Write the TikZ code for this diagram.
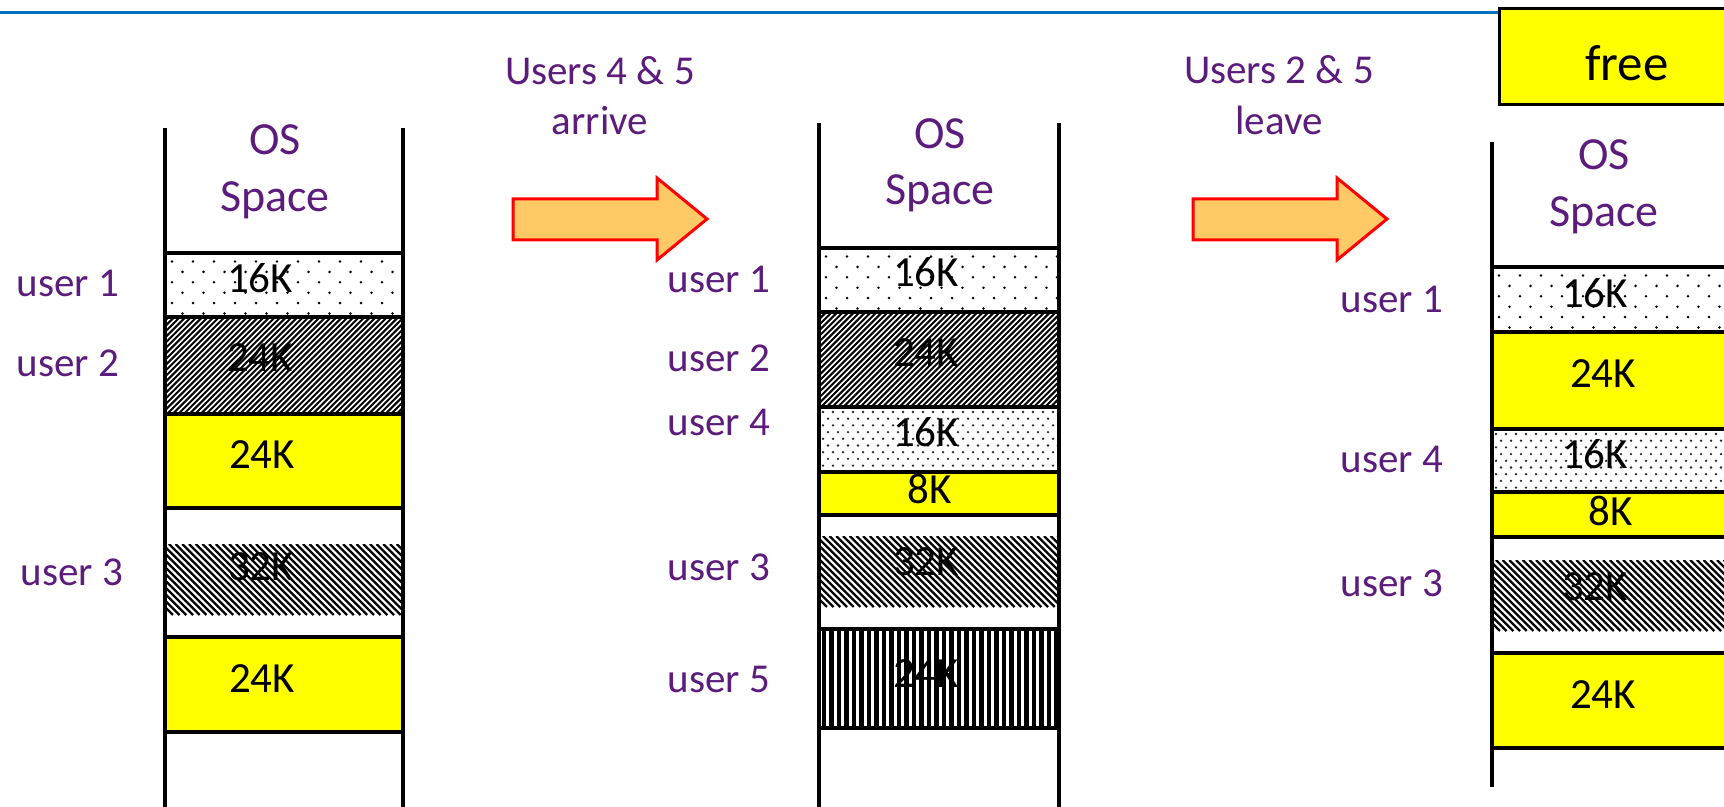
\documentclass[tikz,border=0pt]{standalone}
\usepackage{fontspec}
\setmainfont{Carlito}
\definecolor{txtpurple}{RGB}{92,28,124}
\definecolor{arrowfill}{RGB}{255,202,102}
\definecolor{topblue}{RGB}{0,112,192}
\definecolor{blkyellow}{RGB}{255,255,0}
\tikzset{
  wall/.style={line width=2.3pt, draw=black},
  divider/.style={line width=2.2pt, draw=black},
  lbl/.style={text=txtpurple, font=\fontsize{20.5}{24}\selectfont, anchor=base, inner sep=0pt},
  ostxt/.style={text=txtpurple, font=\fontsize{23}{28}\selectfont, anchor=base, inner sep=0pt},
  sz/.style={text=black, font=\fontsize{21.5}{26}\selectfont, anchor=base, inner sep=0pt},
  yblk/.style={fill=blkyellow},
  bigarrow/.style={fill=arrowfill, draw=red, line width=1.5pt, line join=miter},
}
% block fills: x1 y1 x2 y2 (pixel units)
\newcommand{\MemSparseDots}[4]{%
  \begin{scope}
    \clip (#1,#2) rectangle (#3,#4);
    \fill[white] (#1,#2) rectangle (#3,#4);
    \foreach \ri in {0,...,10}{
      \foreach \ci in {0,...,12}{
        \fill[black] ({#1+7+21*\ci+10.5*mod(\ri,2)},{#2+8.5+10.4*\ri}) circle[radius=0.7pt];
      }
    }
  \end{scope}}
\newcommand{\MemDenseDots}[4]{%
  \begin{scope}
    \clip (#1,#2) rectangle (#3,#4);
    \fill[white] (#1,#2) rectangle (#3,#4);
    \foreach \ri in {0,...,16}{
      \foreach \ci in {0,...,25}{
        \fill[black!85] ({#1+4+10*\ci+5*mod(\ri,2)},{#2+5+6.7*\ri}) circle[radius=0.65pt];
      }
    }
  \end{scope}}
\newcommand{\MemHatchUp}[4]{%
  \begin{scope}
    \clip (#1,#2) rectangle (#3,#4);
    \fill[white] (#1,#2) rectangle (#3,#4);
    \foreach \k in {0,...,70}{
      \draw[line width=1pt] ({#1-110+5.6*\k},#4) -- ({#1-110+5.6*\k+(#4-#2)},#2);
    }
  \end{scope}}
\newcommand{\MemHatchDown}[4]{%
  \begin{scope}
    \clip (#1,#2) rectangle (#3,#4);
    \fill[white] (#1,#2) rectangle (#3,#4);
    \foreach \k in {0,...,60}{
      \draw[line width=1.15pt] ({#1-110+6.7*\k},#2) -- ({#1-110+6.7*\k+(#4-#2)},#4);
    }
  \end{scope}}
\newcommand{\MemVStripes}[4]{%
  \begin{scope}
    \clip (#1,#2) rectangle (#3,#4);
    \fill[white] (#1,#2) rectangle (#3,#4);
    \foreach \k in {0,...,34}{
      \draw[line width=2.05pt] ({#1+5+7.5*\k},#2) -- ({#1+5+7.5*\k},#4);
    }
  \end{scope}}
\begin{document}
\begin{tikzpicture}[x=0.5pt,y=-0.5pt]
\useasboundingbox (0,0) rectangle (1724,807);
\fill[white] (0,0) rectangle (1724,807);
% top rule
\draw[topblue, line width=1.5pt] (0,13) -- (1724,13);

% ---------- column 1 ----------
\MemSparseDots{165}{253}{403}{317}
\MemHatchUp{165}{317}{403}{414}
\path[yblk] (165,414) rectangle (403,508);
\MemHatchDown{165}{544}{403}{615}
\path[yblk] (165,637) rectangle (403,732);
\foreach \yy in {253,317,414,508,637,732} \draw[divider] (165,\yy) -- (403,\yy);
\draw[wall] (165,128) -- (165,812);
\draw[wall] (403,128) -- (403,812);
\node[ostxt] (os1) at (275,155) {OS};
\node[ostxt] (sp1) at (275,212) {Space};
\node[sz] (a16) at (260,293) {16K};
\node[sz] (a24) at (260,372) {24K};
\node[sz] (a24f) at (262,468) {24K};
\node[sz] (a32) at (261,580) {32K};
\node[sz] (a24g) at (262,692) {24K};
\node[lbl] (u1a) at (68,297) {user 1};
\node[lbl] (u2a) at (68,377) {user 2};
\node[lbl] (u3a) at (72,585) {user 3};

% ---------- arrow 1 ----------
\path[bigarrow] (513,199) -- (657,199) -- (657,178) -- (707,219) -- (657,260) -- (657,240) -- (513,240) -- cycle;
\node[lbl] (t1a) at (600,85) {Users 4 \& 5};
\node[lbl] (t1b) at (600,135) {arrive};

% ---------- column 2 ----------
\MemSparseDots{819}{248}{1059}{312}
\MemHatchUp{819}{312}{1059}{407}
\MemDenseDots{819}{407}{1059}{472}
\path[yblk] (819,472) rectangle (1059,515);
\MemHatchDown{819}{536}{1059}{607}
\MemVStripes{819}{629}{1059}{728}
\foreach \yy in {248,312,407,472,515,629,728} \draw[divider] (819,\yy) -- (1059,\yy);
\draw[wall] (819,123) -- (819,812);
\draw[wall] (1059,123) -- (1059,812);
\node[ostxt] (os2) at (940,149) {OS};
\node[ostxt] (sp2) at (940,205) {Space};
\node[sz] (b16) at (926,287) {16K};
\node[sz] (b24) at (926,367) {24K};
\node[sz] (b16b) at (926,447) {16K};
\node[sz] (b8) at (930,503) {8K};
\node[sz] (b32) at (926,575) {32K};
\node[sz] (b24b) at (926,687) {24K};
\node[lbl] (u1b) at (719,293) {user 1};
\node[lbl] (u2b) at (719,372) {user 2};
\node[lbl] (u4b) at (719,436) {user 4};
\node[lbl] (u3b) at (719,580) {user 3};
\node[lbl] (u5b) at (719,692) {user 5};

% ---------- arrow 2 ----------
\path[bigarrow] (1193,199) -- (1337,199) -- (1337,178) -- (1387,219) -- (1337,260) -- (1337,240) -- (1193,240) -- cycle;
\node[lbl] (t2a) at (1279,84) {Users 2 \& 5};
\node[lbl] (t2b) at (1279,135) {leave};

% ---------- column 3 ----------
\MemSparseDots{1492}{267}{1740}{332}
\path[yblk] (1492,332) rectangle (1740,429);
\MemDenseDots{1492}{429}{1740}{492}
\path[yblk] (1492,492) rectangle (1740,537);
\MemHatchDown{1492}{560}{1740}{631}
\path[yblk] (1492,653) rectangle (1740,748);
\foreach \yy in {267,332,429,492,537,653,748} \draw[divider] (1492,\yy) -- (1740,\yy);
\draw[wall] (1492,142) -- (1492,787);
\node[ostxt] (os3) at (1604,170) {OS};
\node[ostxt] (sp3) at (1604,227) {Space};
\node[sz] (c16) at (1595,308) {16K};
\node[sz] (c24) at (1603,388) {24K};
\node[sz] (c16b) at (1595,468) {16K};
\node[sz] (c8) at (1611,525) {8K};
\node[sz] (c32) at (1595,600) {32K};
\node[sz] (c24b) at (1603,708) {24K};
\node[lbl] (u1c) at (1392,313) {user 1};
\node[lbl] (u4c) at (1392,473) {user 4};
\node[lbl] (u3c) at (1392,596) {user 3};

% ---------- free box ----------
\path[fill=blkyellow, draw=black, line width=1.5pt] (1499,9) rectangle (1740,105);
\node[text=black, font=\fontsize{25.5}{30}\selectfont, anchor=base, inner sep=0pt] (freetxt) at (1627,81) {free};
\end{tikzpicture}
\end{document}
